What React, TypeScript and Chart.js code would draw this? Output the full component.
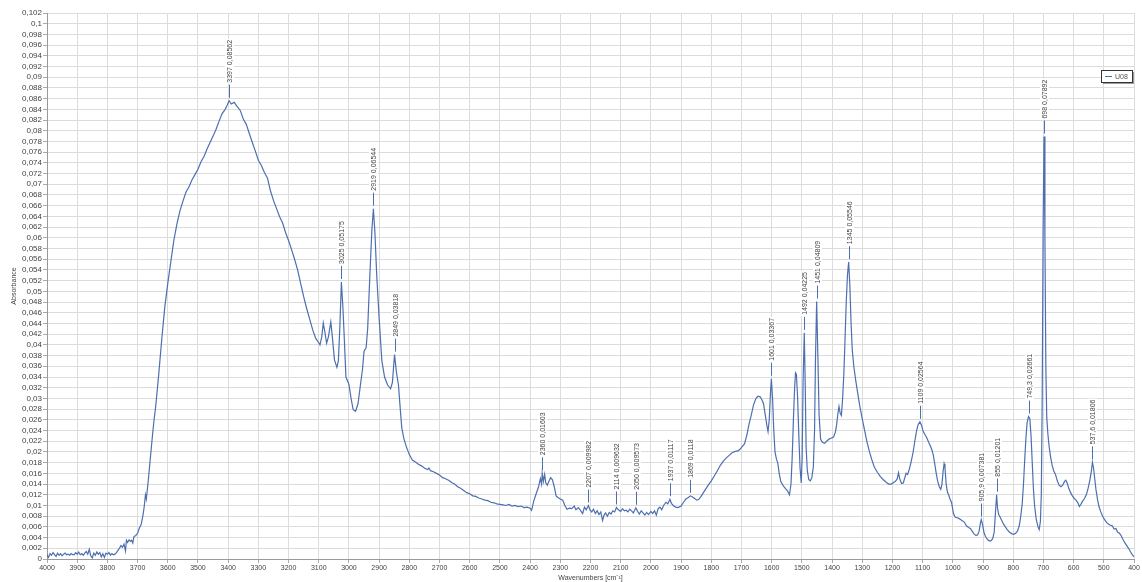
import React, { useEffect, useRef } from "react";
import { Chart, registerables } from "chart.js";

Chart.register(...registerables);

const wavenumbers: number[] = [
  4000, 3995, 3990, 3985, 3980, 3975, 3970, 3965, 3960, 3955, 3950, 3945, 3940, 3935, 3930, 3925, 3920, 3915, 3910, 3905,
  3900, 3895, 3890, 3885, 3880, 3875, 3870, 3865, 3860, 3855, 3850, 3845, 3840, 3835, 3830, 3825, 3820, 3815, 3810, 3805,
  3800, 3795, 3790, 3785, 3780, 3775, 3770, 3765, 3760, 3755, 3750, 3745, 3740, 3737, 3733, 3728, 3724, 3720, 3716, 3712,
  3706, 3700, 3694, 3688, 3682, 3678, 3674, 3671, 3668, 3664, 3660, 3655, 3650, 3645, 3640, 3630, 3620, 3610, 3600, 3590,
  3580, 3570, 3560, 3550, 3540, 3530, 3520, 3510, 3500, 3490, 3480, 3470, 3460, 3450, 3440, 3430, 3420, 3410, 3403, 3397,
  3390, 3380, 3370, 3360, 3350, 3340, 3330, 3320, 3310, 3300, 3290, 3280, 3270, 3260, 3250, 3240, 3230, 3220, 3210, 3200,
  3190, 3180, 3170, 3160, 3150, 3140, 3130, 3120, 3110, 3100, 3096, 3090, 3085, 3080, 3074, 3068, 3060, 3055, 3048, 3040,
  3035, 3030, 3025, 3020, 3016, 3010, 3000, 2993, 2986, 2978, 2970, 2962, 2955, 2950, 2943, 2938, 2930, 2924, 2919, 2914,
  2908, 2900, 2891, 2882, 2872, 2862, 2856, 2849, 2843, 2836, 2830, 2825, 2818, 2810, 2800, 2790, 2780, 2770, 2760, 2750,
  2740, 2735, 2730, 2720, 2710, 2700, 2690, 2680, 2670, 2660, 2650, 2640, 2630, 2620, 2610, 2600, 2590, 2580, 2570, 2560,
  2550, 2540, 2530, 2520, 2510, 2500, 2490, 2480, 2470, 2460, 2450, 2440, 2430, 2420, 2410, 2400, 2395, 2388, 2380, 2372,
  2366, 2362, 2360, 2356, 2352, 2348, 2343, 2338, 2332, 2326, 2320, 2314, 2308, 2300, 2292, 2285, 2278, 2270, 2262, 2254,
  2248, 2240, 2232, 2226, 2220, 2214, 2207, 2202, 2196, 2190, 2184, 2178, 2172, 2166, 2160, 2155, 2150, 2144, 2138, 2132,
  2126, 2120, 2114, 2108, 2100, 2094, 2088, 2082, 2076, 2070, 2064, 2058, 2050, 2044, 2038, 2032, 2026, 2020, 2014, 2008,
  2000, 1994, 1988, 1982, 1976, 1970, 1964, 1958, 1950, 1944, 1937, 1932, 1926, 1918, 1910, 1900, 1892, 1884, 1876, 1869,
  1862, 1855, 1848, 1842, 1835, 1826, 1818, 1810, 1800, 1790, 1780, 1770, 1760, 1750, 1740, 1730, 1720, 1712, 1705, 1698,
  1690, 1682, 1675, 1668, 1660, 1652, 1645, 1638, 1632, 1627, 1622, 1616, 1612, 1608, 1604, 1601, 1597, 1593, 1589, 1584,
  1580, 1575, 1570, 1562, 1555, 1548, 1541, 1536, 1532, 1528, 1524, 1521, 1518, 1514, 1510, 1506, 1502, 1499, 1496, 1492,
  1489, 1486, 1482, 1477, 1472, 1467, 1462, 1458, 1455, 1451, 1447, 1443, 1438, 1432, 1425, 1418, 1410, 1402, 1395, 1389,
  1385, 1381, 1377, 1373, 1369, 1365, 1361, 1357, 1353, 1349, 1345, 1341, 1337, 1333, 1328, 1322, 1315, 1308, 1300, 1292,
  1284, 1276, 1268, 1260, 1250, 1240, 1230, 1220, 1212, 1204, 1196, 1190, 1184, 1180, 1176, 1170, 1164, 1160, 1155, 1150,
  1144, 1138, 1132, 1126, 1120, 1115, 1109, 1104, 1098, 1092, 1086, 1080, 1075, 1070, 1065, 1060, 1055, 1050, 1045, 1040,
  1036, 1032, 1029, 1026, 1022, 1018, 1014, 1010, 1004, 998, 992, 985, 978, 970, 962, 955, 948, 942, 936, 930,
  924, 918, 913, 909, 905.9, 902, 897, 892, 886, 880, 874, 868, 863, 859, 855, 852, 848, 844, 838, 832,
  826, 820, 812, 804, 798, 792, 786, 780, 775, 770, 766, 762, 758, 754, 749.3, 745, 741, 737, 733, 729,
  724, 718, 714, 710, 707, 704, 701, 698, 695, 692, 689, 685, 681, 676, 671, 666, 660, 654, 648, 642,
  636, 630, 626, 622, 616, 610, 604, 598, 592, 586, 581, 576, 570, 564, 558, 552, 546, 541, 537.6, 534,
  530, 526, 521, 516, 510, 504, 498, 490, 484, 478, 472, 466, 460, 454, 448, 442, 436, 430, 424, 418,
  412, 406, 400,
];

const absorbance: number[] = [
  0.0008, 0.0003, 0.0010, 0.0007, 0.0012, 0.0008, 0.0005, 0.0011, 0.0007, 0.0010, 0.0006, 0.0009, 0.0011, 0.0008, 0.0009, 0.0007, 0.0010, 0.0008, 0.0008, 0.0012,
  0.0009, 0.0013, 0.0008, 0.0010, 0.0007, 0.0011, 0.0014, 0.0009, 0.0018, 0.0006, 0.0002, 0.0011, 0.0007, 0.0013, 0.0009, 0.0012, 0.0004, 0.0010, 0.0003, 0.0011,
  0.0009, 0.0012, 0.0007, 0.0010, 0.0008, 0.0009, 0.0012, 0.0016, 0.0020, 0.0025, 0.0022, 0.0028, 0.0015, 0.0035, 0.0031, 0.0036, 0.0033, 0.0035, 0.0030, 0.0042,
  0.0044, 0.0048, 0.0058, 0.0065, 0.0082, 0.0098, 0.0120, 0.0112, 0.0128, 0.0150, 0.0175, 0.0205, 0.0235, 0.0262, 0.0285, 0.0345, 0.0410, 0.0470, 0.0515, 0.0555,
  0.0595, 0.0625, 0.0650, 0.0668, 0.0685, 0.0695, 0.0708, 0.0718, 0.0728, 0.0742, 0.0752, 0.0766, 0.0778, 0.0790, 0.0803, 0.0818, 0.0832, 0.0840, 0.0848, 0.08562,
  0.0850, 0.0853, 0.0845, 0.0838, 0.0822, 0.0812, 0.0795, 0.0778, 0.0762, 0.0745, 0.0735, 0.0722, 0.0712, 0.0688, 0.0670, 0.0655, 0.0640, 0.0628, 0.0610, 0.0595,
  0.0578, 0.0560, 0.0540, 0.0515, 0.0490, 0.0468, 0.0448, 0.0428, 0.0412, 0.0404, 0.0400, 0.0415, 0.0441, 0.0425, 0.0403, 0.0415, 0.0443, 0.0415, 0.0372, 0.0358,
  0.0370, 0.0435, 0.05175, 0.0470, 0.0420, 0.0340, 0.0326, 0.0300, 0.0279, 0.0276, 0.0290, 0.0325, 0.0355, 0.0388, 0.0395, 0.0430, 0.0540, 0.0615, 0.06544, 0.0610,
  0.0530, 0.0450, 0.0370, 0.0340, 0.0325, 0.0318, 0.0330, 0.03818, 0.0350, 0.0325, 0.0280, 0.0245, 0.0225, 0.0210, 0.0195, 0.0185, 0.0181, 0.0177, 0.0174, 0.0170,
  0.0167, 0.0170, 0.0165, 0.0163, 0.0160, 0.0157, 0.0152, 0.0150, 0.0147, 0.0143, 0.0140, 0.0135, 0.0132, 0.0128, 0.0124, 0.0122, 0.0118, 0.0117, 0.0114, 0.0112,
  0.0110, 0.0109, 0.0106, 0.0105, 0.0103, 0.0102, 0.0101, 0.0100, 0.0102, 0.0099, 0.0100, 0.0098, 0.0099, 0.0096, 0.0097, 0.0095, 0.0091, 0.0108, 0.0122, 0.0135,
  0.0150, 0.0140, 0.01603, 0.0145, 0.0158, 0.0142, 0.0138, 0.0145, 0.0152, 0.0148, 0.0135, 0.0118, 0.0115, 0.0112, 0.0110, 0.0100, 0.0093, 0.0095, 0.0094, 0.0099,
  0.0092, 0.0096, 0.0090, 0.0085, 0.0097, 0.0092, 0.009982, 0.0092, 0.0088, 0.0093, 0.0085, 0.0090, 0.0083, 0.0088, 0.0072, 0.0082, 0.0086, 0.0080, 0.0087, 0.0084,
  0.0090, 0.0088, 0.009632, 0.0092, 0.0089, 0.0094, 0.0090, 0.0091, 0.0088, 0.0093, 0.0090, 0.0086, 0.009573, 0.0089, 0.0084, 0.0090, 0.0086, 0.0082, 0.0087, 0.0083,
  0.0089, 0.0085, 0.0090, 0.0082, 0.0094, 0.0097, 0.0092, 0.0100, 0.0106, 0.0103, 0.01117, 0.0104, 0.0100, 0.0097, 0.0096, 0.0099, 0.0106, 0.0112, 0.0115, 0.0118,
  0.0116, 0.0113, 0.0110, 0.0111, 0.0116, 0.0124, 0.0131, 0.0138, 0.0146, 0.0155, 0.0165, 0.0175, 0.0183, 0.0189, 0.0194, 0.0199, 0.0201, 0.0202, 0.0205, 0.0210,
  0.0215, 0.0232, 0.0252, 0.0268, 0.0288, 0.0300, 0.0304, 0.0303, 0.0297, 0.0290, 0.0272, 0.0250, 0.0238, 0.0260, 0.0310, 0.03367, 0.0300, 0.0240, 0.0200, 0.0186,
  0.0180, 0.0160, 0.0145, 0.0137, 0.0132, 0.0128, 0.0120, 0.0140, 0.0190, 0.0260, 0.0320, 0.0348, 0.0345, 0.0300, 0.0230, 0.0170, 0.0142, 0.0190, 0.0330, 0.04225,
  0.0330, 0.0210, 0.0165, 0.0148, 0.0146, 0.0152, 0.0172, 0.0240, 0.0370, 0.04809, 0.0380, 0.0270, 0.0224, 0.0218, 0.0216, 0.0220, 0.0224, 0.0226, 0.0228, 0.0237,
  0.0250, 0.0270, 0.0285, 0.0272, 0.0268, 0.0300, 0.0345, 0.0410, 0.0480, 0.0530, 0.05546, 0.0510, 0.0440, 0.0390, 0.0360, 0.0335, 0.0310, 0.0285, 0.0262, 0.0240,
  0.0218, 0.0200, 0.0185, 0.0172, 0.0162, 0.0154, 0.0148, 0.0143, 0.0140, 0.0140, 0.0143, 0.0145, 0.0150, 0.0161, 0.0150, 0.0141, 0.0142, 0.0150, 0.0160, 0.0158,
  0.0168, 0.0182, 0.0198, 0.0220, 0.0240, 0.0251, 0.02564, 0.0250, 0.0238, 0.0232, 0.0226, 0.0218, 0.0212, 0.0205, 0.0195, 0.0178, 0.0160, 0.0145, 0.0135, 0.0130,
  0.0140, 0.0165, 0.0178, 0.0170, 0.0140, 0.0125, 0.0120, 0.0113, 0.0105, 0.0085, 0.0078, 0.0077, 0.0075, 0.0072, 0.0069, 0.0062, 0.0059, 0.0057, 0.0052, 0.0047,
  0.0044, 0.0045, 0.0052, 0.0066, 0.007381, 0.0065, 0.0050, 0.0042, 0.0037, 0.0034, 0.0034, 0.0038, 0.0050, 0.0085, 0.01201, 0.0095, 0.0083, 0.0079, 0.0072, 0.0065,
  0.0060, 0.0055, 0.0050, 0.0047, 0.0046, 0.0048, 0.0052, 0.0062, 0.0080, 0.0105, 0.0140, 0.0185, 0.0225, 0.0255, 0.02661, 0.0262, 0.0230, 0.0180, 0.0130, 0.0098,
  0.0075, 0.0060, 0.0055, 0.0070, 0.0120, 0.0300, 0.0620, 0.07892, 0.0600, 0.0360, 0.0265, 0.0232, 0.0210, 0.0190, 0.0175, 0.0165, 0.0158, 0.0146, 0.0138, 0.0135,
  0.0138, 0.0145, 0.0147, 0.0143, 0.0132, 0.0124, 0.0118, 0.0113, 0.0110, 0.0105, 0.0098, 0.0102, 0.0108, 0.0113, 0.0120, 0.0132, 0.0148, 0.0165, 0.01806, 0.0170,
  0.0150, 0.0130, 0.0112, 0.0098, 0.0088, 0.0080, 0.0074, 0.0068, 0.0065, 0.0063, 0.0062, 0.0056, 0.0057, 0.0050, 0.0048, 0.0043, 0.0036, 0.0030, 0.0025, 0.0020,
  0.0014, 0.0008, 0.0004,
];

const peakWavenumbers: number[] = [3397, 3025, 2919, 2849, 2360, 2207, 2114, 2050, 1937, 1869, 1601, 1492, 1451, 1345, 1109, 905.9, 855, 749.3, 698, 537.6];
const peakValues: number[] = [0.08562, 0.05175, 0.06544, 0.03818, 0.01603, 0.009982, 0.009632, 0.009573, 0.01117, 0.0118, 0.03367, 0.04225, 0.04809, 0.05546, 0.02564, 0.007381, 0.01201, 0.02661, 0.07892, 0.01806];
const peakLabels: string[] = [
  "3397 0,08562", "3025 0,05175", "2919 0,06544", "2849 0,03818", "2360 0,01603", "2207 0,009982", "2114 0,009632",
  "2050 0,009573", "1937 0,01117", "1869 0,0118", "1601 0,03367", "1492 0,04225", "1451 0,04809", "1345 0,05546",
  "1109 0,02564", "905,9 0,007381", "855 0,01201", "749,3 0,02661", "698 0,07892", "537,6 0,01806",
];

const seriesName = "U08";
const xTitle = "Wavenumbers [cm\u207B\u00B9]";
const yTitle = "Absorbance";
const lineColor = "#4d6fb0";
const fontFamily = "'Liberation Sans', Arial, sans-serif";

const peakPlugin = {
  id: "peakLabels",
  afterDatasetsDraw(chart: any) {
    const { ctx, scales } = chart;
    const xs = scales.x;
    const ys = scales.y;
    ctx.save();
    ctx.font = `7px ${fontFamily}`;
    peakWavenumbers.forEach((w, i) => {
      const px = Math.round(xs.getPixelForValue(w)) + 0.5;
      const py = ys.getPixelForValue(peakValues[i]);
      ctx.strokeStyle = lineColor;
      ctx.lineWidth = 1;
      ctx.beginPath();
      ctx.moveTo(px, py - 3);
      ctx.lineTo(px, py - 16);
      ctx.stroke();
      const text = peakLabels[i];
      const tw = ctx.measureText(text).width;
      ctx.save();
      ctx.translate(px, py - 18);
      ctx.rotate(-Math.PI / 2);
      ctx.fillStyle = "#ffffff";
      ctx.fillRect(-1, -4.5, tw + 2, 9);
      ctx.fillStyle = "#444444";
      ctx.textAlign = "left";
      ctx.textBaseline = "middle";
      ctx.fillText(text, 0, 0.5);
      ctx.restore();
    });
    ctx.restore();
  },
};

const legendPlugin = {
  id: "boxLegend",
  afterDraw(chart: any) {
    const { ctx, chartArea } = chart;
    const w = 31;
    const h = 12;
    const x = chartArea.right - 33;
    const y = chartArea.top + 57;
    ctx.save();
    ctx.fillStyle = "#9a9a9a";
    ctx.fillRect(x + 2, y + 2, w, h);
    ctx.fillStyle = "#ffffff";
    ctx.fillRect(x, y, w, h);
    ctx.strokeStyle = "#333333";
    ctx.lineWidth = 1;
    ctx.strokeRect(x + 0.5, y + 0.5, w, h);
    ctx.strokeStyle = lineColor;
    ctx.beginPath();
    ctx.moveTo(x + 4, y + 6.5);
    ctx.lineTo(x + 11, y + 6.5);
    ctx.stroke();
    ctx.fillStyle = "#555555";
    ctx.font = `7px ${fontFamily}`;
    ctx.textBaseline = "middle";
    ctx.fillText(seriesName, x + 14, y + 7);
    ctx.restore();
  },
};

export default function App() {
  const canvasRef = useRef<HTMLCanvasElement | null>(null);

  useEffect(() => {
    document.body.style.margin = "0";
    const canvas = canvasRef.current;
    if (!canvas) return;
    const points = wavenumbers.map((w, i) => ({ x: w, y: absorbance[i] }));
    const chart = new Chart(canvas, {
      type: "line",
      data: {
        datasets: [
          {
            label: seriesName,
            data: points,
            borderColor: lineColor,
            borderWidth: 1.2,
            pointRadius: 0,
            tension: 0,
            fill: false,
          },
        ],
      },
      options: {
        animation: false,
        responsive: false,
        devicePixelRatio: 1,
        layout: { padding: { top: 13, right: 8, left: 10, bottom: 0 } },
        plugins: {
          legend: { display: false },
          tooltip: { enabled: false },
        },
        scales: {
          x: {
            type: "linear",
            reverse: true,
            min: 400,
            max: 4000,
            afterFit: (s: any) => {
              s.height = 23;
            },
            ticks: {
              stepSize: 100,
              autoSkip: false,
              maxRotation: 0,
              padding: 1,
              color: "#444",
              font: { size: 7, family: fontFamily },
              callback: (v: any) => String(Math.round(Number(v))),
            },
            grid: { color: "#dcdcdc", tickLength: 4, tickColor: "#aaa" },
            border: { color: "#999" },
            title: {
              display: true,
              text: xTitle,
              color: "#444",
              font: { size: 7, family: fontFamily },
              padding: 0,
            },
          },
          y: {
            type: "linear",
            min: 0,
            max: 0.102,
            afterFit: (s: any) => {
              s.width = 37;
            },
            ticks: {
              stepSize: 0.002,
              autoSkip: false,
              maxTicksLimit: 200,
              padding: 1,
              color: "#444",
              font: { size: 8, family: fontFamily },
              callback: (v: any) => String(Number(Number(v).toFixed(3))).replace(".", ","),
            },
            grid: { color: "#dcdcdc", tickLength: 4, tickColor: "#aaa" },
            border: { color: "#999" },
            title: {
              display: true,
              text: yTitle,
              color: "#444",
              font: { size: 7, family: fontFamily },
              padding: 0,
            },
          },
        },
      },
      plugins: [peakPlugin, legendPlugin],
    });
    return () => chart.destroy();
  }, []);

  return (
    <div style={{ position: "fixed", left: 0, top: 0, width: 1142, height: 582, background: "#fff" }}>
      <canvas ref={canvasRef} width={1142} height={582} style={{ width: 1142, height: 582 }} />
    </div>
  );
}
